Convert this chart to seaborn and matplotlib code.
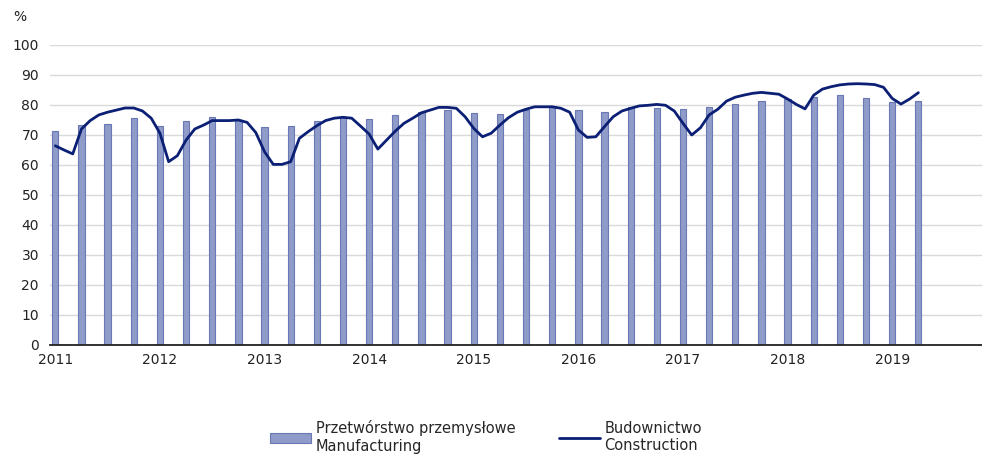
import numpy as np
import pandas as pd
import matplotlib
matplotlib.use("Agg")
import matplotlib.pyplot as plt
import seaborn as sns
from matplotlib.patches import Patch
from matplotlib.lines import Line2D

# Przetwórstwo przemysłowe / Manufacturing - kwartalnie 2011Q1-2019Q2
manufacturing = [71.3, 73.2, 73.8, 75.6,
                 72.9, 74.5, 75.9, 75.0,
                 72.6, 72.9, 74.6, 76.1,
                 75.3, 76.7, 77.7, 78.3,
                 77.2, 77.0, 78.3, 79.4,
                 78.3, 77.6, 79.2, 78.9,
                 78.6, 79.3, 80.3, 81.3,
                 82.1, 82.7, 83.3, 82.3,
                 80.9, 81.3]

# Budownictwo / Construction - miesięcznie 2011-01 .. 2019-04
construction = [66.4, 65.0, 63.7, 72.0, 74.8, 76.7, 77.6, 78.3, 79.0, 79.0, 78.0, 75.6,
                70.6, 61.1, 63.1, 68.3, 72.0, 73.3, 74.8, 74.8, 74.8, 75.0, 74.2, 70.8,
                64.4, 60.2, 60.2, 61.1, 68.9, 71.1, 73.1, 74.8, 75.6, 75.9, 75.6, 73.0,
                70.3, 65.3, 68.3, 71.3, 73.9, 75.6, 77.4, 78.3, 79.2, 79.2, 78.9, 76.1,
                72.2, 69.4, 70.6, 73.3, 75.8, 77.6, 78.6, 79.4, 79.4, 79.4, 78.9, 77.6,
                71.7, 69.2, 69.4, 72.8, 76.1, 78.0, 78.9, 79.7, 79.9, 80.2, 79.9, 78.0,
                73.9, 70.0, 72.4, 76.7, 78.6, 81.3, 82.6, 83.3, 83.9, 84.2, 83.9, 83.6,
                82.0, 80.2, 78.7, 83.3, 85.3, 86.1, 86.7, 87.0, 87.1, 87.0, 86.8, 85.9,
                82.2, 80.3, 82.0, 84.1]

years = [str(y) for y in range(2011, 2020)]

# miesiące od 2011-01 jako oś x
bar_x = np.arange(len(manufacturing)) * 3
line_x = np.arange(len(construction))

df_bar = pd.DataFrame({"m": bar_x, "v": manufacturing})
df_line = pd.DataFrame({"m": line_x, "v": construction})

sns.set_style("white")
plt.rcParams["font.family"] = ["DejaVu Sans"]

fig = plt.figure(figsize=(9.82, 4.55), dpi=100)
ax = fig.add_axes([0.051, 0.2418, 0.949, 0.6593])

bar_color = "#8F9BC8"
bar_edge = "#6A78B5"
line_color = "#0B1F75"

sns.barplot(data=df_bar, x="m", y="v", native_scale=True, width=0.24,
            color=bar_color, edgecolor=bar_edge, linewidth=0.8,
            saturation=1, ax=ax, zorder=2)
sns.lineplot(data=df_line, x="m", y="v", color=line_color, linewidth=2.0,
             ax=ax, zorder=3)

ax.set_xlim(-0.6, 106.3)
ax.set_ylim(0, 100)
ax.set_yticks(range(0, 101, 10))
ax.set_xticks(np.arange(len(years)) * 12)
ax.set_xticklabels(years)
ax.set_xlabel("")
ax.set_ylabel("")

ax.grid(axis="y", color="#D9D9D9", linewidth=1.0, zorder=0)
ax.set_axisbelow(True)
for s in ["top", "right", "left"]:
    ax.spines[s].set_visible(False)
ax.spines["bottom"].set_color("#222222")
ax.spines["bottom"].set_linewidth(1.3)
ax.tick_params(axis="both", length=0, labelsize=10, colors="#222222")
ax.tick_params(axis="y", pad=8)
ax.tick_params(axis="x", pad=6, labelsize=10)

fig.text(0.013, 0.962, "%", fontsize=10, color="#222222", va="center")

handles = [Patch(facecolor=bar_color, edgecolor=bar_edge, linewidth=0.8),
           Line2D([0], [0], color=line_color, linewidth=2.0)]
labels = ["Przetwórstwo przemysłowe\nManufacturing", "Budownictwo\nConstruction"]
fig.legend(handles, labels, loc="upper center", bbox_to_anchor=(0.495, 0.105),
           ncol=2, frameon=False, handlelength=2.8, handleheight=0.7,
           columnspacing=3.0, handletextpad=0.3, labelspacing=0.2,
           prop={"size": 10.5})

fig.savefig("out.png", dpi=100)
